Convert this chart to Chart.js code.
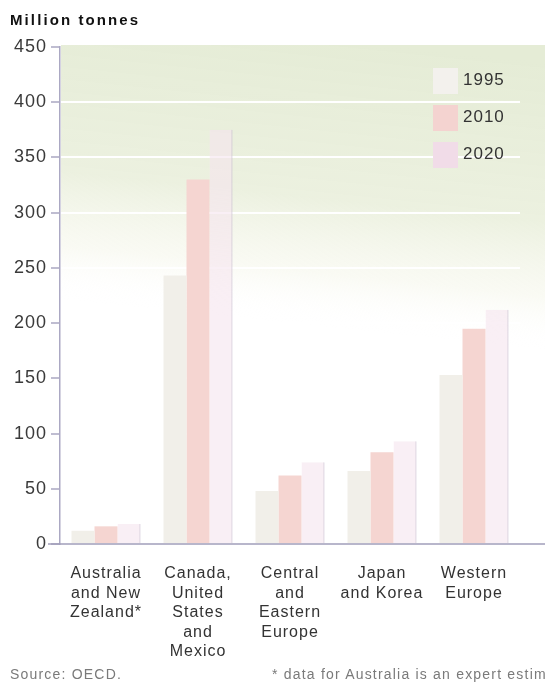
<!DOCTYPE html>
<html>
<head>
<meta charset="utf-8">
<script src="https://cdn.jsdelivr.net/npm/chart.js@4.4.1/dist/chart.umd.min.js"></script>
<style>
  html, body { margin: 0; padding: 0; background: #fff; }
  body { width: 545px; height: 684px; overflow: hidden; position: relative; font-family: "Liberation Sans", Arial, sans-serif; }
  #wrap { position: absolute; left: 0; top: 0; width: 545px; height: 684px; }
  .title { position: absolute; left: 10px; top: 12px; font-size: 15px; line-height: 15px; font-weight: bold; color: #111; letter-spacing: 2.1px; white-space: nowrap; }
  .note { position: absolute; top: 667px; font-size: 14px; line-height: 15px; color: #7a7a7a; white-space: nowrap; letter-spacing: 1.2px; }
  .legend { position: absolute; left: 433px; top: 68px; }
  .legend .row { position: relative; height: 37px; }
  .legend .sw { position: absolute; left: 0; top: 0; width: 25px; height: 26px; }
  .legend .lb { position: absolute; left: 30px; top: 2px; font-size: 17px; line-height: 19px; color: #333; letter-spacing: 1px; }
</style>
</head>
<body>
<div id="wrap"><canvas id="chart" width="545" height="684"></canvas></div>
<div class="title">Million tonnes</div>
<div class="legend" id="legend"></div>
<div class="note" style="left:10px">Source: OECD.</div>
<div class="note" style="left:272px">* data for Australia is an expert estimate</div>
<script>
// regions along the bottom, one group of bars each
const regions = [
  ['Australia', 'and New', 'Zealand*'],
  ['Canada,', 'United', 'States', 'and', 'Mexico'],
  ['Central', 'and', 'Eastern', 'Europe'],
  ['Japan', 'and Korea'],
  ['Western', 'Europe']
];
const years = ['1995', '2010', '2020'];
const v1995 = [12, 243, 48, 66, 153];
const v2010 = [16, 330, 62, 83, 195];
const v2020 = [18, 375, 74, 93, 212];
const yTicks = [0, 50, 100, 150, 200, 250, 300, 350, 400, 450];

const fills = ['#f1efe9', '#f5d5d1', 'rgba(245,228,238,0.6)'];
const swatches = ['#f3f1ed', '#f4d3d0', '#f1dce8'];

// pale green wash behind the top of the plot
const bgWash = {
  id: 'bgWash',
  beforeDraw(chart) {
    const { ctx, chartArea: a } = chart;
    ctx.letterSpacing = '1px';
    // tilted so the wash reaches a little lower on the right
    const g = ctx.createLinearGradient(a.left + 55, a.top - 30, a.left, a.bottom);
    g.addColorStop(0, 'rgba(229,236,214,1)');
    g.addColorStop(0.3, 'rgba(235,240,222,0.95)');
    g.addColorStop(0.44, 'rgba(246,247,236,0.6)');
    g.addColorStop(0.54, 'rgba(255,255,255,0)');
    ctx.save();
    ctx.fillStyle = g;
    ctx.fillRect(a.left + 1, a.top - 2, chart.width - a.left, a.bottom - a.top);
    ctx.restore();
  },
  afterDatasetsDraw(chart) {
    const { ctx } = chart;
    const y0 = chart.scales.y.getPixelForValue(0);
    ctx.save();
    ctx.strokeStyle = '#a19eba';
    ctx.lineWidth = 1.5;
    ctx.beginPath();
    ctx.moveTo(48, y0);
    ctx.lineTo(chart.width, y0);
    ctx.stroke();
    ctx.restore();
  }
};

const ds = [v1995, v2010, v2020].map((vals, i) => ({
  label: years[i],
  data: vals,
  backgroundColor: fills[i],
  borderColor: i === 2 ? '#c6bccd' : '#e6e2dc',
  borderWidth: i === 2 ? { right: 1, left: 0, top: 0, bottom: 0 } : 0,
  borderSkipped: 'bottom'
}));

new Chart(document.getElementById('chart'), {
  type: 'bar',
  data: { labels: regions, datasets: ds },
  options: {
    responsive: false,
    animation: false,
    layout: { padding: { top: 47, right: 25, left: 0, bottom: 0 } },
    plugins: { legend: { display: false }, tooltip: { enabled: false } },
    datasets: { bar: { categoryPercentage: 0.75, barPercentage: 1.0 } },
    scales: {
      x: {
        grid: { display: false, drawTicks: false },
        border: { display: false },
        ticks: {
          padding: 20,
          color: '#333',
          maxRotation: 0,
          autoSkip: false,
          font: { family: 'Liberation Sans', size: 16, lineHeight: 1.22 }
        },
        afterFit(s) { s.height = 140; }
      },
      y: {
        min: 0,
        max: 450,
        afterBuildTicks(s) { s.ticks = yTicks.map(v => ({ value: v })); },
        grid: {
          color: c => c.tick && c.tick.value > 0 && c.tick.value < 450 ? '#ffffff' : 'rgba(0,0,0,0)',
          lineWidth: 2,
          tickColor: '#aaa7c2',
          tickLength: 9,
          tickWidth: 1.5
        },
        border: { color: '#aba8c3', width: 1.5 },
        ticks: {
          padding: 4,
          color: '#3a3a3a',
          font: { family: 'Liberation Sans', size: 18 }
        },
        afterFit(s) { s.width = 60; }
      }
    }
  },
  plugins: [bgWash]
});

// legend, top right
const leg = document.getElementById('legend');
years.forEach((y, i) => {
  const row = document.createElement('div');
  row.className = 'row';
  row.innerHTML = '<div class="sw" style="background:' + swatches[i] + '"></div><div class="lb">' + y + '</div>';
  leg.appendChild(row);
});
</script>
</body>
</html>
